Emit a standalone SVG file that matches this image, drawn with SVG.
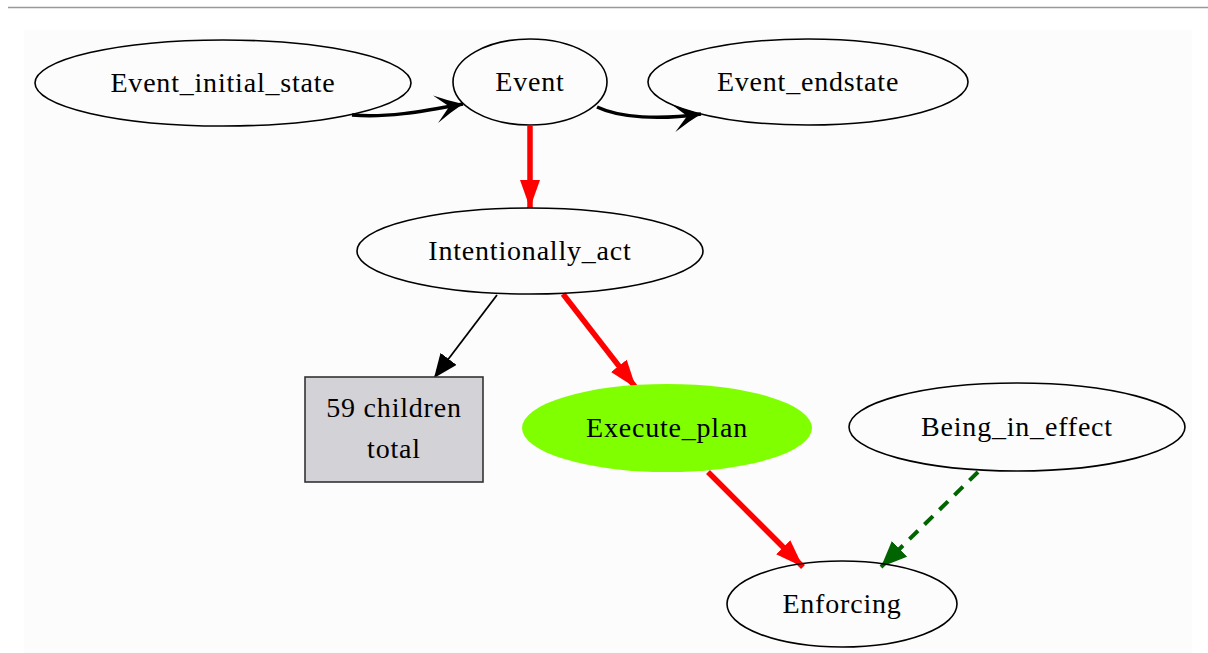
<svg xmlns="http://www.w3.org/2000/svg" width="1208" height="653" viewBox="0 0 1208 653">
<style>
text{font-family:"Liberation Serif","Times New Roman",serif;font-size:28px;letter-spacing:0.8px;fill:#000;text-anchor:middle}
.n{fill:none;stroke:#000;stroke-width:1.6}
.blk{fill:none;stroke:#000;stroke-width:3.5}
.red{fill:none;stroke:#ff0000;stroke-width:5.5}
.thin{fill:none;stroke:#000;stroke-width:1.8}
.grn{fill:none;stroke:#006400;stroke-width:4;stroke-dasharray:12,9}
</style>
<defs>
<marker id="vee" viewBox="0 0 28 28" refX="28" refY="14" markerWidth="28" markerHeight="28" markerUnits="userSpaceOnUse" orient="auto">
<path d="M0,0 Q14,8 28,14 Q14,20 0,28 L14,14 Z" fill="#000"/>
</marker>
<marker id="ar" viewBox="0 0 28 20" refX="28" refY="10" markerWidth="28" markerHeight="20" markerUnits="userSpaceOnUse" orient="auto">
<path d="M0,0 L28,10 L0,20 Z" fill="#ff0000"/>
</marker>
<marker id="ab" viewBox="0 0 24 20" refX="24" refY="10" markerWidth="24" markerHeight="20" markerUnits="userSpaceOnUse" orient="auto">
<path d="M0,0 L24,10 L0,20 Z" fill="#000"/>
</marker>
<marker id="ag" viewBox="0 0 26 22" refX="26" refY="11" markerWidth="26" markerHeight="22" markerUnits="userSpaceOnUse" orient="auto">
<path d="M0,0 L26,11 L0,22 Z" fill="#006400"/>
</marker>
</defs>
<line x1="8" y1="7.5" x2="1208" y2="7.5" stroke="#999" stroke-width="1.5"/>
<rect x="24" y="30" width="1168" height="623" fill="#fbfcfb"/>
<g id="connectors">
<path class="blk" d="M352,115 C385,118 420,112 463,104" marker-end="url(#vee)"/>
<path class="blk" d="M597,107 C620,118 660,120 701,114" marker-end="url(#vee)"/>
<path class="red" d="M530,126 L530,208" marker-end="url(#ar)"/>
<path class="thin" d="M497,295 L434,378" marker-end="url(#ab)"/>
<path class="red" d="M563,294 L636,388" marker-end="url(#ar)"/>
<path class="red" d="M708,472 L803,567" marker-end="url(#ar)"/>
<path class="grn" d="M978,472 L881,567" marker-end="url(#ag)"/>
</g>
<g id="Event_initial_state"><ellipse class="n" cx="223" cy="83" rx="188" ry="43"/><text x="223" y="92">Event_initial_state</text></g>
<g id="Event"><ellipse class="n" cx="530" cy="82" rx="77" ry="43"/><text x="530" y="91">Event</text></g>
<g id="Event_endstate"><ellipse class="n" cx="808" cy="82" rx="160" ry="43"/><text x="808" y="91">Event_endstate</text></g>
<g id="Intentionally_act"><ellipse class="n" cx="530" cy="251" rx="173" ry="43"/><text x="530" y="260">Intentionally_act</text></g>
<g id="children"><rect x="305" y="377" width="178" height="105" fill="#d3d2d6" stroke="#333" stroke-width="1.6"/><text x="394" y="417">59 children</text><text x="394" y="458">total</text></g>
<g id="Execute_plan"><ellipse cx="667" cy="428" rx="145" ry="44" fill="#80ff00"/><text x="667" y="437">Execute_plan</text></g>
<g id="Being_in_effect"><ellipse class="n" cx="1017" cy="427" rx="168" ry="44"/><text x="1017" y="436">Being_in_effect</text></g>
<g id="Enforcing"><ellipse class="n" cx="842" cy="604" rx="115" ry="43"/><text x="842" y="613">Enforcing</text></g>
</svg>
